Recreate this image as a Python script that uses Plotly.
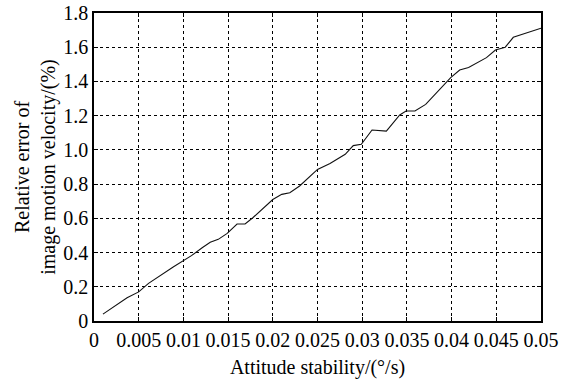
import plotly.graph_objects as go

stability = [0.001, 0.0037, 0.005, 0.0061, 0.0089, 0.010, 0.0109, 0.0121, 0.0130, 0.0139,
             0.0149, 0.0160, 0.0169, 0.0178, 0.0200, 0.0210, 0.0219, 0.0230, 0.0240, 0.0250,
             0.0264, 0.0281, 0.0290, 0.0299, 0.0311, 0.0327, 0.0342, 0.0349, 0.0359, 0.0371,
             0.0399, 0.0409, 0.0419, 0.0439, 0.0449, 0.0460, 0.0469, 0.0480, 0.0500]
rel_error = [0.04, 0.136, 0.17, 0.22, 0.317, 0.351, 0.382, 0.428, 0.46, 0.477,
             0.512, 0.567, 0.567, 0.605, 0.71, 0.74, 0.75, 0.789, 0.84, 0.886,
             0.921, 0.974, 1.025, 1.033, 1.116, 1.11, 1.204, 1.227, 1.227, 1.266,
             1.422, 1.467, 1.481, 1.539, 1.584, 1.6, 1.658, 1.677, 1.711]

x_tickvals = [0, 0.005, 0.01, 0.015, 0.02, 0.025, 0.03, 0.035, 0.04, 0.045, 0.05]
x_ticktext = ["0", "0.005", "0.01", "0.015", "0.02", "0.025", "0.03", "0.035", "0.04", "0.045", "0.05"]
y_tickvals = [0, 0.2, 0.4, 0.6, 0.8, 1.0, 1.2, 1.4, 1.6, 1.8]
y_ticktext = ["0", "0.2", "0.4", "0.6", "0.8", "1.0", "1.2", "1.4", "1.6", "1.8"]

fig = go.Figure()
fig.add_trace(go.Scatter(x=stability, y=rel_error, mode="lines",
                         line=dict(color="#111111", width=1.1), showlegend=False))

font = dict(family="Liberation Serif, Times New Roman, serif", size=20, color="black")

fig.update_layout(
    width=571, height=383,
    margin=dict(l=94, r=30, t=13, b=62),
    paper_bgcolor="white", plot_bgcolor="white",
    font=font,
)
fig.update_xaxes(
    range=[0, 0.05], tickvals=x_tickvals, ticktext=x_ticktext, automargin=False,
    showgrid=True, gridcolor="black", griddash="dot", gridwidth=1,
    showline=True, linecolor="black", linewidth=1.5, mirror="ticks",
    ticks="inside", ticklen=4, tickcolor="black", zeroline=False,
    title=dict(text="Attitude stability/(°/s)", standoff=10, font=font),
    tickfont=font,
)
fig.update_yaxes(
    range=[0, 1.8], tickvals=y_tickvals, ticktext=y_ticktext, automargin=False,
    showgrid=True, gridcolor="black", griddash="dot", gridwidth=1,
    showline=True, linecolor="black", linewidth=1.5, mirror="ticks",
    ticks="inside", ticklen=4, tickcolor="black", zeroline=False,
    title=dict(text="Relative error of<br>image motion velocity/(%)", standoff=2, font=font),
    tickfont=font,
)

fig.write_html("out.html")
